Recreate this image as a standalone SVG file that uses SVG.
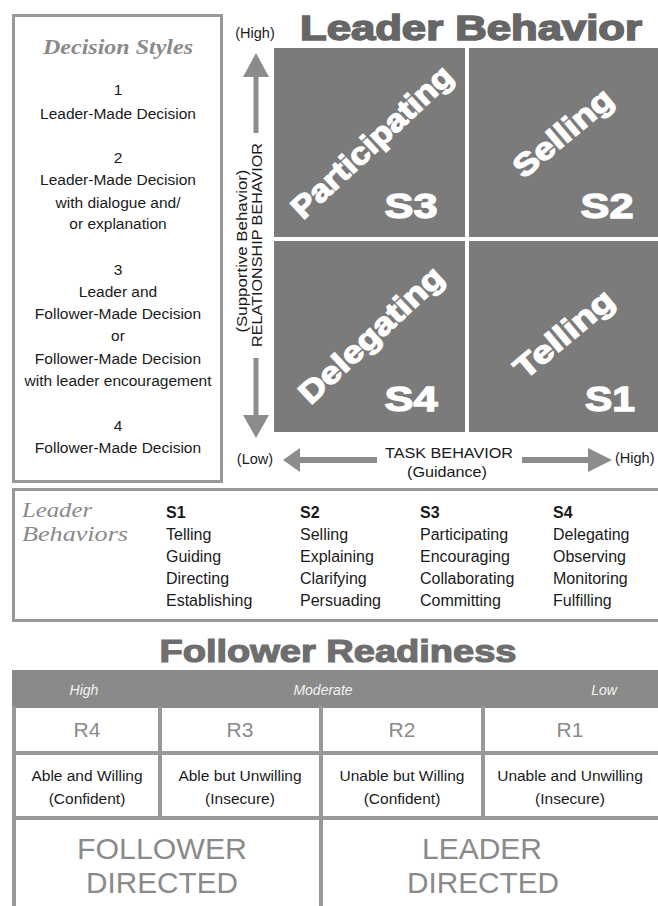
<svg xmlns="http://www.w3.org/2000/svg" width="658" height="906" viewBox="0 0 658 906">
<style>
.t{font-family:"Liberation Sans",Arial,sans-serif;fill:#1a1a1a;}
.c{text-anchor:middle;}
.ds{font-size:15.5px;}
.lb{font-size:16px;}
.q{font-family:"Liberation Sans",Arial,sans-serif;font-weight:bold;fill:#fff;stroke:#fff;stroke-width:1.3;text-anchor:middle;dominant-baseline:central;}
.box{fill:none;stroke:#999;stroke-width:3;}
.grid{stroke:#999;stroke-width:4;}
.quad{fill:#7b7b7b;}
.arr{fill:#8c8c8c;}
</style>
<rect width="658" height="906" fill="#fff"/>

<g id="decision-styles">
<rect class="box" x="13.5" y="15.5" width="208" height="466"/>
<text x="118" y="54" text-anchor="middle" font-family="'Liberation Serif',Georgia,serif" font-weight="bold" font-style="italic" font-size="22" fill="#8a8a8a" textLength="150" lengthAdjust="spacingAndGlyphs">Decision Styles</text>
<g class="t c ds">
<text x="118" y="94.5">1</text>
<text x="118" y="118.5">Leader-Made Decision</text>
<text x="118" y="162.5">2</text>
<text x="118" y="184.5">Leader-Made Decision</text>
<text x="118" y="207.5">with dialogue and/</text>
<text x="118" y="228.5">or explanation</text>
<text x="118" y="274.5">3</text>
<text x="118" y="296.5">Leader and</text>
<text x="118" y="318.5">Follower-Made Decision</text>
<text x="118" y="340.5">or</text>
<text x="118" y="363.5">Follower-Made Decision</text>
<text x="118" y="385.5">with leader encouragement</text>
<text x="118" y="430.5">4</text>
<text x="118" y="452.5">Follower-Made Decision</text>
</g>
</g>

<g id="title-leader-behavior">
<text x="300" y="40" font-family="'Liberation Sans',Arial,sans-serif" font-weight="bold" font-size="35" fill="#666" stroke="#666" stroke-width="1.6" textLength="342" lengthAdjust="spacingAndGlyphs">Leader Behavior</text>
</g>

<g id="quadrant-s3">
<rect class="quad" x="274" y="48" width="191" height="189"/>
<text class="q" font-size="31" transform="translate(372,142) rotate(-43)" textLength="208" lengthAdjust="spacingAndGlyphs">Participating</text>
<text class="q" font-size="35" x="411" y="205" textLength="53" lengthAdjust="spacingAndGlyphs">S3</text>
</g>
<g id="quadrant-s2">
<rect class="quad" x="469" y="48" width="189" height="189"/>
<text class="q" font-size="31" transform="translate(563,133) rotate(-40)" textLength="120" lengthAdjust="spacingAndGlyphs">Selling</text>
<text class="q" font-size="35" x="607" y="205" textLength="53" lengthAdjust="spacingAndGlyphs">S2</text>
</g>
<g id="quadrant-s4">
<rect class="quad" x="274" y="241" width="191" height="191"/>
<text class="q" font-size="31" transform="translate(371,335) rotate(-43)" textLength="185" lengthAdjust="spacingAndGlyphs">Delegating</text>
<text class="q" font-size="35" x="411" y="398" textLength="53" lengthAdjust="spacingAndGlyphs">S4</text>
</g>
<g id="quadrant-s1">
<rect class="quad" x="469" y="241" width="189" height="191"/>
<text class="q" font-size="31" transform="translate(564,334) rotate(-40)" textLength="120" lengthAdjust="spacingAndGlyphs">Telling</text>
<text class="q" font-size="35" x="610" y="398" textLength="50" lengthAdjust="spacingAndGlyphs">S1</text>
</g>

<g id="axes">
<polygon class="arr" points="256,53 269,77 243,77"/>
<rect class="arr" x="253.5" y="77" width="5" height="56"/>
<rect class="arr" x="253.5" y="358" width="5" height="58"/>
<polygon class="arr" points="243,415 269,415 256,438"/>
<polygon class="arr" points="283,460 300,448 300,472"/>
<rect class="arr" x="300" y="457" width="77" height="6"/>
<rect class="arr" x="522" y="457" width="67" height="6"/>
<polygon class="arr" points="588,448 612,460 588,472"/>
</g>

<g id="axis-labels" class="t">
<text x="255" y="38" text-anchor="middle" font-size="14.5">(High)</text>
<text x="255" y="464" text-anchor="middle" font-size="14.5">(Low)</text>
<text x="615" y="463" font-size="14.5">(High)</text>
<text x="449" y="458" text-anchor="middle" font-size="14.5" textLength="128" lengthAdjust="spacingAndGlyphs">TASK BEHAVIOR</text>
<text x="447" y="477" text-anchor="middle" font-size="14.5" textLength="80" lengthAdjust="spacingAndGlyphs">(Guidance)</text>
<text transform="translate(242,251) rotate(-90)" text-anchor="middle" dominant-baseline="central" font-size="14.5" textLength="163" lengthAdjust="spacingAndGlyphs">(Supportive Behavior)</text>
<text transform="translate(257,245) rotate(-90)" text-anchor="middle" dominant-baseline="central" font-size="14.5" textLength="204" lengthAdjust="spacingAndGlyphs">RELATIONSHIP BEHAVIOR</text>
</g>

<g id="leader-behaviors">
<rect class="box" x="13.5" y="489.5" width="650" height="131"/>
<text x="22" y="517" font-family="'Liberation Serif',Georgia,serif" font-style="italic" font-size="21" fill="#8a8a8a" textLength="70" lengthAdjust="spacingAndGlyphs">Leader</text>
<text x="22" y="541" font-family="'Liberation Serif',Georgia,serif" font-style="italic" font-size="21" fill="#8a8a8a" textLength="106" lengthAdjust="spacingAndGlyphs">Behaviors</text>
<g class="t lb">
<text x="166" y="517.5" font-weight="bold">S1</text>
<text x="166" y="539.5">Telling</text>
<text x="166" y="561.5">Guiding</text>
<text x="166" y="583.5">Directing</text>
<text x="166" y="605.5">Establishing</text>
<text x="300" y="517.5" font-weight="bold">S2</text>
<text x="300" y="539.5">Selling</text>
<text x="300" y="561.5">Explaining</text>
<text x="300" y="583.5">Clarifying</text>
<text x="300" y="605.5">Persuading</text>
<text x="420" y="517.5" font-weight="bold">S3</text>
<text x="420" y="539.5">Participating</text>
<text x="420" y="561.5">Encouraging</text>
<text x="420" y="583.5">Collaborating</text>
<text x="420" y="605.5">Committing</text>
<text x="553" y="517.5" font-weight="bold">S4</text>
<text x="553" y="539.5">Delegating</text>
<text x="553" y="561.5">Observing</text>
<text x="553" y="583.5">Monitoring</text>
<text x="553" y="605.5">Fulfilling</text>
</g>
</g>

<g id="follower-readiness">
<text x="338" y="662" text-anchor="middle" font-family="'Liberation Sans',Arial,sans-serif" font-weight="bold" font-size="31" fill="#6e6e6e" stroke="#6e6e6e" stroke-width="1.2" textLength="357" lengthAdjust="spacingAndGlyphs">Follower Readiness</text>
<rect x="12" y="670" width="646" height="38" fill="#8a8a8a"/>
<g font-family="'Liberation Sans',Arial,sans-serif" font-style="italic" font-size="14" fill="#f2f2f2" text-anchor="middle">
<text x="84" y="695">High</text>
<text x="323" y="695">Moderate</text>
<text x="604" y="695">Low</text>
</g>
<line class="grid" x1="14" y1="706" x2="14" y2="906"/>
<line class="grid" x1="160" y1="706" x2="160" y2="818"/>
<line class="grid" x1="321" y1="706" x2="321" y2="906"/>
<line class="grid" x1="483" y1="706" x2="483" y2="818"/>
<line class="grid" x1="12" y1="753" x2="658" y2="753"/>
<line class="grid" x1="12" y1="818" x2="658" y2="818"/>
</g>

<g id="readiness-r4">
<text x="87" y="737" text-anchor="middle" font-family="'Liberation Sans',Arial,sans-serif" font-size="21" fill="#8a8a8a">R4</text>
<text class="t ds" x="87" y="781" text-anchor="middle">Able and Willing</text>
<text class="t ds" x="87" y="804" text-anchor="middle">(Confident)</text>
</g>
<g id="readiness-r3">
<text x="240" y="737" text-anchor="middle" font-family="'Liberation Sans',Arial,sans-serif" font-size="21" fill="#8a8a8a">R3</text>
<text class="t ds" x="240" y="781" text-anchor="middle">Able but Unwilling</text>
<text class="t ds" x="240" y="804" text-anchor="middle">(Insecure)</text>
</g>
<g id="readiness-r2">
<text x="402" y="737" text-anchor="middle" font-family="'Liberation Sans',Arial,sans-serif" font-size="21" fill="#8a8a8a">R2</text>
<text class="t ds" x="402" y="781" text-anchor="middle">Unable but Willing</text>
<text class="t ds" x="402" y="804" text-anchor="middle">(Confident)</text>
</g>
<g id="readiness-r1">
<text x="570" y="737" text-anchor="middle" font-family="'Liberation Sans',Arial,sans-serif" font-size="21" fill="#8a8a8a">R1</text>
<text class="t ds" x="570" y="781" text-anchor="middle">Unable and Unwilling</text>
<text class="t ds" x="570" y="804" text-anchor="middle">(Insecure)</text>
</g>

<g id="follower-directed" font-family="'Liberation Sans',Arial,sans-serif" font-size="30" fill="#8a8a8a" text-anchor="middle">
<text x="162" y="859" textLength="170" lengthAdjust="spacingAndGlyphs">FOLLOWER</text>
<text x="162" y="893" textLength="152" lengthAdjust="spacingAndGlyphs">DIRECTED</text>
</g>
<g id="leader-directed" font-family="'Liberation Sans',Arial,sans-serif" font-size="30" fill="#8a8a8a" text-anchor="middle">
<text x="482" y="859" textLength="120" lengthAdjust="spacingAndGlyphs">LEADER</text>
<text x="483" y="893" textLength="152" lengthAdjust="spacingAndGlyphs">DIRECTED</text>
</g>
</svg>
